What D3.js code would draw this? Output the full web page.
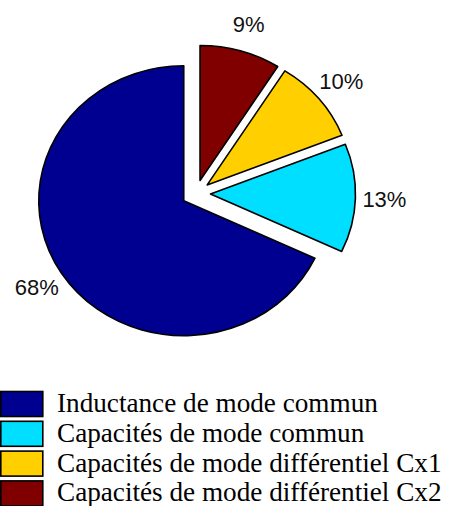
<!DOCTYPE html>
<html>
<head>
<meta charset="utf-8">
<script src="https://cdn.jsdelivr.net/npm/d3@7"></script>
<style>
  html, body { margin: 0; padding: 0; background: #fff; }
  svg { display: block; }
</style>
</head>
<body>
<svg id="chart" width="451" height="506"></svg>
<script>
// Share of each component (percent)
const categories = [
  "Inductance de mode commun",
  "Capacités de mode commun",
  "Capacités de mode différentiel Cx1",
  "Capacités de mode différentiel Cx2"
];
const values = [68, 13, 10, 9];
const labels = ["68%", "13%", "10%", "9%"];
const colors = ["#000090", "#00DFFF", "#FFCF00", "#800000"];

const svg = d3.select("#chart");

// Pie geometry: slightly elliptical, every slice pushed out by 10% of the radius
const cx = 196, cy = 193.5;
const ry = 135, rx = 145;
const sx = rx / ry;
const explode = 0.1;
const labelR = 1.2;

const pie = d3.pie().sort(null).startAngle(0).endAngle(-2 * Math.PI);
const arcs = pie(values);
const arc = d3.arc().innerRadius(0).outerRadius(ry);

const dir = d => {
  const m = (d.startAngle + d.endAngle) / 2;
  return [Math.sin(m), -Math.cos(m)];
};

const g = svg.append("g").attr("transform", `translate(${cx},${cy}) scale(${sx},1)`);

g.selectAll("path")
  .data(arcs)
  .join("path")
  .attr("d", arc)
  .attr("transform", d => {
    const [ux, uy] = dir(d);
    return `translate(${ux * explode * ry},${uy * explode * ry})`;
  })
  .attr("fill", (d, i) => colors[i])
  .attr("stroke", "#000")
  .attr("stroke-width", 1.6)
  .attr("stroke-linejoin", "round")
  .attr("vector-effect", "non-scaling-stroke");

// Percentage labels outside each slice
svg.selectAll("text.pct")
  .data(arcs)
  .join("text")
  .attr("class", "pct")
  .attr("x", d => cx + dir(d)[0] * (labelR + explode) * rx)
  .attr("y", d => cy + dir(d)[1] * (labelR + explode) * ry)
  .attr("text-anchor", "middle")
  .attr("dominant-baseline", "central")
  .attr("font-family", "Liberation Sans, Arial, sans-serif")
  .attr("font-size", 22)
  .attr("fill", "#111")
  .text((d, i) => labels[i]);

// Legend
const legend = svg.append("g").attr("transform", "translate(0,391.5)");
const rowH = 29.8;
const rows = legend.selectAll("g")
  .data(categories)
  .join("g")
  .attr("transform", (d, i) => `translate(0,${i * rowH})`);

rows.append("rect")
  .attr("x", 0.8)
  .attr("y", 0)
  .attr("width", 42)
  .attr("height", 25)
  .attr("fill", (d, i) => colors[i])
  .attr("stroke", "#000")
  .attr("stroke-width", 1.6);

rows.append("text")
  .attr("x", 57)
  .attr("y", 20.5)
  .attr("font-family", "Liberation Serif, Times New Roman, serif")
  .attr("font-size", 27.2)
  .attr("fill", "#000")
  .text(d => d);
</script>
</body>
</html>
